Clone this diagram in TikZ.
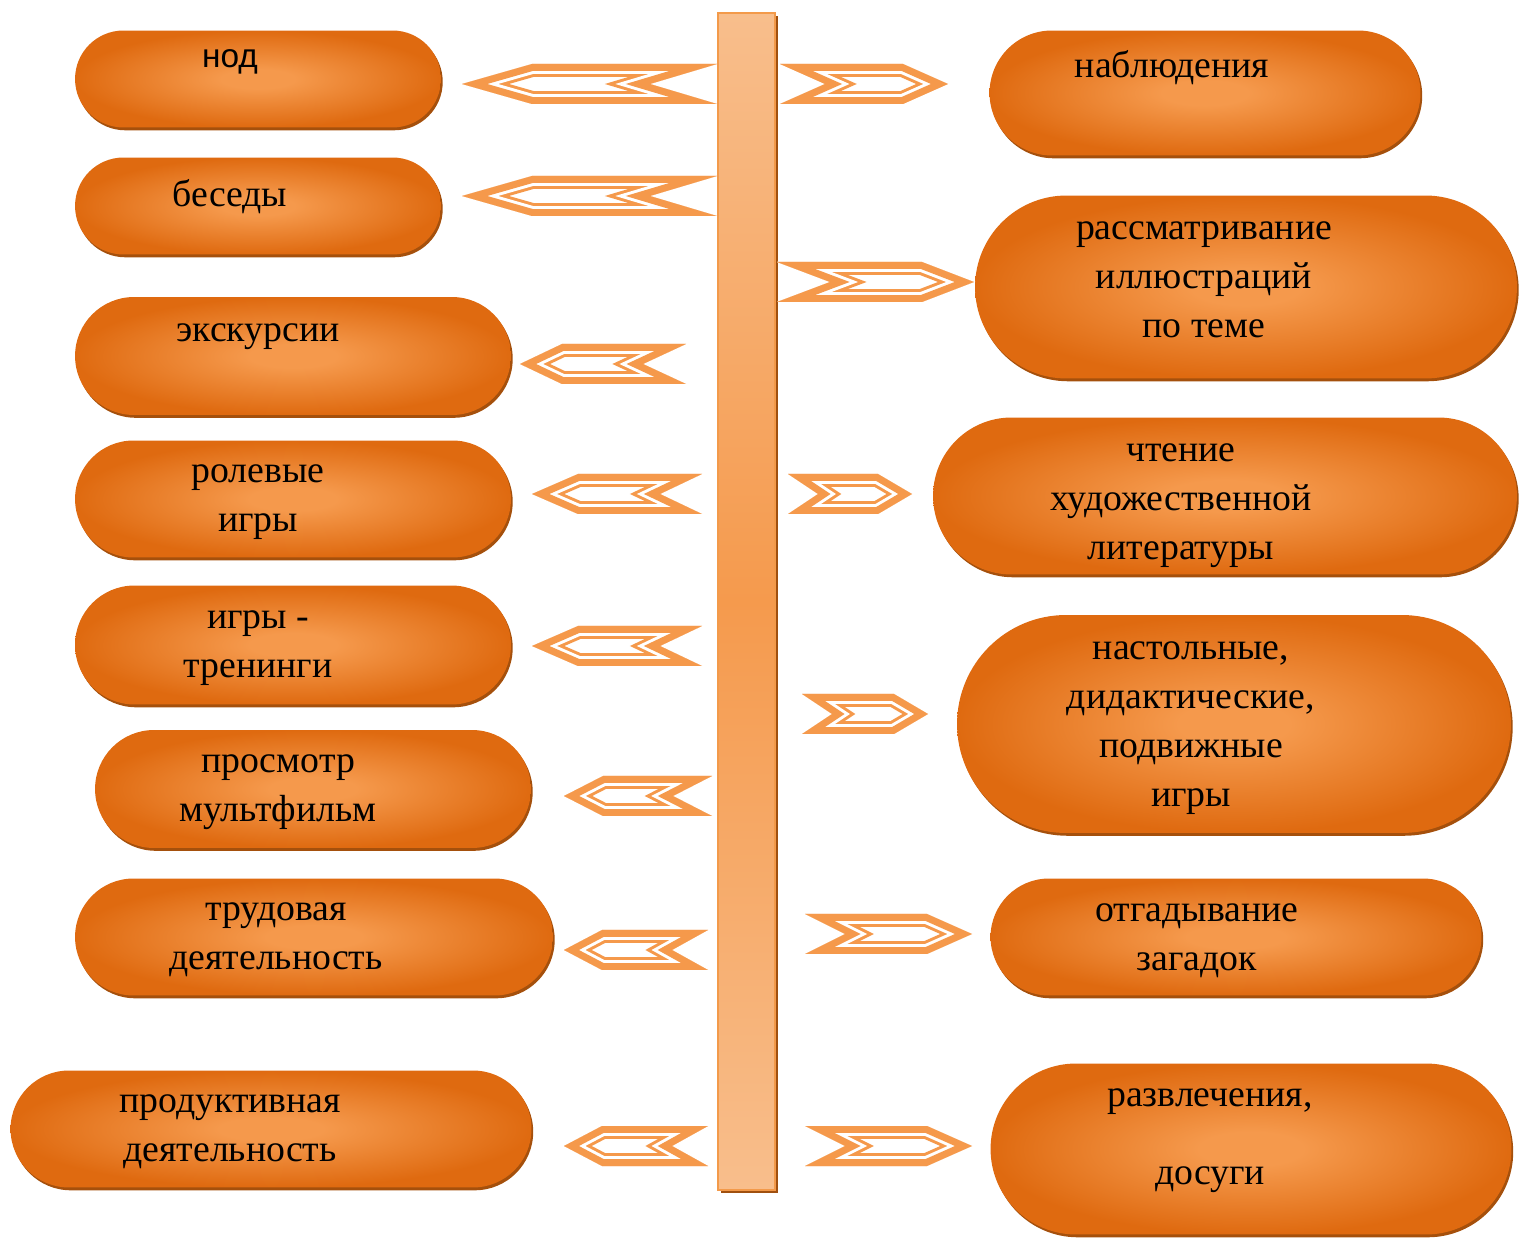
\documentclass[tikz,border=0pt]{standalone}
\usepackage{fontspec}
\setmainfont{Liberation Serif}
\newfontfamily\nodfont{Liberation Sans}
\usepackage{tikz}
\usetikzlibrary{shapes.misc,shadows,positioning}

\definecolor{pilllight}{HTML}{F5994C}
\definecolor{pilldark}{HTML}{DF6A10}
\definecolor{pillshade}{HTML}{A5500C}
\definecolor{chevcol}{HTML}{F5994B}
\definecolor{barlight}{HTML}{F8BE8C}
\definecolor{barmid}{HTML}{F59A4D}
\definecolor{barline}{HTML}{F39A4A}
\definecolor{barshade}{HTML}{A0500F}

\pgfdeclareradialshading{pillglow}{\pgfpoint{0bp}{0bp}}{color(0bp)=(pilllight); color(5bp)=(pilllight); color(25bp)=(pilldark); color(50bp)=(pilldark)}

% one chevron: orange band, white line, thin orange line, white inside
\newcommand{\chevbody}[1]{%
    \begin{scope}
        \clip #1;
        \fill[white] #1;
        \draw[chevcol, line width=14.7pt] #1;
        \draw[white, line width=11.3pt] #1;
        \draw[chevcol, line width=7.9pt] #1;
    \end{scope}}
% tip x, y, tail x, head length, notch depth
\newcommand{\lchev}[5]{\chevbody{(#1,#2) -- (#1+#4,#2-20) -- (#3,#2-20) -- (#3-#5,#2) -- (#3,#2+20) -- (#1+#4,#2+20) -- cycle}}
% tail x, y, tip x, notch depth, head length
\newcommand{\rchev}[5]{\chevbody{(#1,#2-20) -- (#3-#5,#2-20) -- (#3,#2) -- (#3-#5,#2+20) -- (#1,#2+20) -- (#1+#4,#2) -- cycle}}

\begin{document}
\begin{tikzpicture}[
        x=0.02cm, y=-0.02cm,
        pill/.style={rounded rectangle, shade, shading=pillglow, inner sep=0pt,
            drop shadow={shadow xshift=1pt, shadow yshift=-1.6pt, fill=pillshade, opacity=1}},
        txt/.style={align=center, inner sep=0pt, font=\fontsize{21.5}{27.8}\selectfont},
        bar/.style={rectangle, draw=barline, line width=1.1pt, inner sep=0pt,
            top color=barlight, bottom color=barlight, middle color=barmid,
            minimum width=1.14cm, minimum height=23.54cm,
            drop shadow={shadow xshift=1.7pt, shadow yshift=-1.7pt, fill=barshade, opacity=1}}
    ]
    \useasboundingbox (0,0) rectangle (1519,1239);

    % Bar
    \node[bar] (axis) at (746.5,601.5) {};

    % Left nodes
    \node[pill, minimum width=7.32cm, minimum height=1.94cm] (nod) at (258,79) {};
    \node[txt, font=\nodfont\fontsize{19}{24}\selectfont] (nodt) at (230,62) {нод};
    \node[pill, minimum width=7.32cm, minimum height=1.94cm] (talk) at (258,206) {};
    \node[txt] (talkt) at (230,197) {беседы};
    \node[pill, minimum width=8.72cm, minimum height=2.36cm] (trip) at (293,356) {};
    \node[txt] (tript) at (258,337) {экскурсии};
    \node[pill, minimum width=8.72cm, minimum height=2.34cm] (role) at (293,499) {};
    \node[txt] (rolet) at (258,502) {ролевые\\игры};
    \node[pill, minimum width=8.72cm, minimum height=2.38cm] (train) at (293,645) {};
    \node[txt] (traint) at (258,648) {игры -\\тренинги};
    \node[pill, minimum width=8.72cm, minimum height=2.36cm] (cartoon) at (313,789) {};
    \node[txt] (cartoont) at (278,792) {просмотр\\мультфильм};
    \node[pill, minimum width=9.56cm, minimum height=2.34cm] (labour) at (314,937) {};
    \node[txt] (labourt) at (276,940) {трудовая\\деятельность};
    \node[pill, minimum width=10.42cm, minimum height=2.34cm] (craft) at (271,1129) {};
    \node[txt] (craftt) at (230,1132) {продуктивная\\деятельность};

    % Right nodes
    \node[pill, minimum width=8.62cm, minimum height=2.5cm] (watch) at (1205,93) {};
    \node[txt] (watcht) at (1172,68) {наблюдения};
    \node[pill, minimum width=10.84cm, minimum height=3.66cm] (pics) at (1246,287) {};
    \node[txt] (picst) at (1204,280) {рассматривание\\иллюстраций\\по теме};
    \node[pill, minimum width=11.68cm, minimum height=3.14cm] (read) at (1225,496) {};
    \node[txt] (readt) at (1181,506) {чтение\\художественной\\литературы};
    \node[pill, minimum width=11.08cm, minimum height=4.36cm] (games) at (1234,724) {};
    \node[txt] (gamest) at (1191,728) {настольные,\\дидактические,\\подвижные\\игры};
    \node[pill, minimum width=9.82cm, minimum height=2.34cm] (riddle) at (1236,937) {};
    \node[txt] (riddlet) at (1197,941) {отгадывание\\загадок};
    \node[pill, minimum width=10.42cm, minimum height=3.42cm] (leisure) at (1251,1149) {};
    \node[txt] (leisuret) at (1210,1141) {развлечения,\\[0.58cm]досуги};

    % Chevrons
    \lchev{462}{84}{717}{70}{67}
    \lchev{462}{196}{717}{70}{67}
    \lchev{520}{364}{686}{42}{43}
    \lchev{532}{494}{702}{46}{42}
    \lchev{532}{646}{702}{46}{42}
    \lchev{564}{796}{712}{39}{39}
    \lchev{564}{950}{708}{38}{36}
    \lchev{564}{1146}{708}{38}{36}

    \rchev{780}{84}{948}{45}{45}
    \rchev{777}{282}{974}{53}{52}
    \rchev{788}{494}{912}{30}{34}
    \rchev{802}{714}{928}{30}{34}
    \rchev{805}{934}{972}{40}{45}
    \rchev{805}{1146}{972}{40}{45}

\end{tikzpicture}
\end{document}
